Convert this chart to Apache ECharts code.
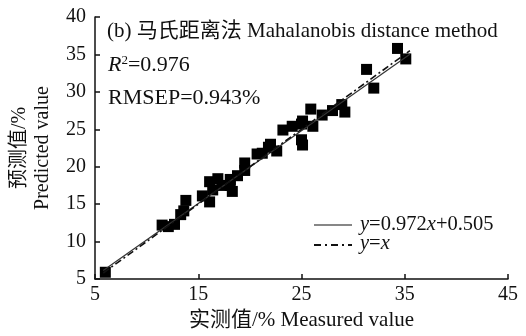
<!DOCTYPE html>
<html>
<head>
<meta charset="utf-8">
<script src="https://cdn.jsdelivr.net/npm/echarts@6/dist/echarts.min.js"></script>
<style>
  html, body { margin: 0; padding: 0; background: #fff; }
  #chart { width: 526px; height: 336px; }
</style>
</head>
<body>
<div id="chart"></div>
<script>
// Measured vs predicted content (%) for the Mahalanobis distance method
var measured = [6.0, 11.5, 12.1, 12.7, 13.3, 13.6, 13.8, 15.4, 16.1, 16.1,
                16.4, 16.9, 17.3, 18.1, 18.1, 18.3, 18.8, 19.5, 19.5, 20.7,
                21.2, 21.8, 22.6, 22.0, 23.2, 24.1, 25.0, 25.1, 25.0, 25.1,
                25.9, 26.1, 27.0, 28.0, 28.9, 29.2, 31.3, 32.0, 34.3, 35.1];
var predicted = [5.9, 12.2, 12.0, 12.3, 13.6, 14.1, 15.5, 16.1, 15.3, 18.0,
                 16.9, 18.4, 17.5, 18.3, 17.5, 16.7, 18.8, 19.5, 20.5, 21.7,
                 21.8, 22.6, 22.1, 23.0, 24.9, 25.4, 25.7, 26.1, 23.6, 22.9,
                 27.7, 25.4, 26.9, 27.5, 28.3, 27.3, 33.0, 30.5, 35.8, 34.4];

// Regression line y = slope*x + intercept and the 1:1 reference line
var slope = 0.972, intercept = 0.505;
var lineRange = [5.8, 35.5];
var xTicks = [5, 15, 25, 35, 45];
var yTicks = [5, 10, 15, 20, 25, 30, 35, 40];

var points = measured.map(function (m, i) { return [m, predicted[i]]; });
var fitLine = lineRange.map(function (x) { return [x, slope * x + intercept]; });
var idLine = lineRange.map(function (x) { return [x, x]; });

var serif = '"Liberation Serif", "Times New Roman", "Noto Sans CJK SC", serif';

var chart = echarts.init(document.getElementById('chart'), null, { renderer: 'canvas' });
chart.setOption({
  animation: false,
  backgroundColor: '#fff',
  grid: { left: 95, right: 18, top: 17, bottom: 55, containLabel: false },
  xAxis: {
    type: 'value', min: xTicks[0], max: xTicks[xTicks.length - 1], interval: 10,
    name: '实测值/% Measured value', nameLocation: 'middle', nameGap: 31,
    nameTextStyle: { fontFamily: serif, fontSize: 21, color: '#111' },
    axisLine: { lineStyle: { color: '#111', width: 1.5 } },
    axisTick: { inside: true, length: 5, lineStyle: { color: '#111', width: 1.5 } },
    axisLabel: { fontFamily: serif, fontSize: 20, color: '#111', margin: 6 },
    splitLine: { show: false }
  },
  yAxis: {
    type: 'value', min: yTicks[0], max: yTicks[yTicks.length - 1], interval: 5,
    name: '预测值/%\nPredicted value', nameLocation: 'middle', nameGap: 41, nameRotate: 90,
    nameTextStyle: { fontFamily: serif, fontSize: 20, color: '#111', lineHeight: 23 },
    axisLine: { lineStyle: { color: '#111', width: 1.5 } },
    axisTick: { inside: true, length: 5, lineStyle: { color: '#111', width: 1.5 } },
    axisLabel: { fontFamily: serif, fontSize: 20, color: '#111', margin: 9 },
    splitLine: { show: false }
  },
  series: [
    {
      type: 'line', data: fitLine, symbol: 'none', z: 3,
      lineStyle: { color: '#333', width: 1.2 }
    },
    {
      type: 'line', data: idLine, symbol: 'none', z: 4,
      lineStyle: { color: '#111', width: 1.6, type: [7, 3, 2, 3] }
    },
    {
      type: 'scatter', data: points, symbol: 'rect', symbolSize: 11, z: 2,
      itemStyle: { color: '#000', opacity: 1 }
    }
  ],
  graphic: [
    {
      type: 'text', left: 107, top: 21,
      style: { text: '(b) 马氏距离法 Mahalanobis distance method', font: '21px ' + serif, fill: '#111' }
    },
    {
      type: 'text', left: 108, top: 54,
      style: {
        text: '{i|R}{s|2}{n|=0.976}',
        rich: {
          i: { font: 'italic 22px ' + serif, fill: '#111' },
          s: { font: '13px ' + serif, fill: '#111', verticalAlign: 'top', padding: [0, 0, 9, 0] },
          n: { font: '22px ' + serif, fill: '#111' }
        }
      }
    },
    {
      type: 'text', left: 108, top: 87,
      style: { text: 'RMSEP=0.943%', font: '22px ' + serif, fill: '#111' }
    },
    // legend
    { type: 'line', shape: { x1: 314, y1: 225, x2: 352, y2: 225 }, style: { stroke: '#111', lineWidth: 1.2 } },
    { type: 'line', shape: { x1: 314, y1: 245, x2: 352, y2: 245 }, style: { stroke: '#111', lineWidth: 1.8, lineDash: [7, 4, 2, 4] } },
    {
      type: 'text', left: 360, top: 214,
      style: {
        text: '{i|y}{n|=0.972}{i|x}{n|+0.505}',
        rich: {
          i: { font: 'italic 20.5px ' + serif, fill: '#111' },
          n: { font: '20.5px ' + serif, fill: '#111' }
        }
      }
    },
    {
      type: 'text', left: 360, top: 233,
      style: {
        text: '{i|y}{n|=}{i|x}',
        rich: {
          i: { font: 'italic 20.5px ' + serif, fill: '#111' },
          n: { font: '20.5px ' + serif, fill: '#111' }
        }
      }
    }
  ]
});
</script>
</body>
</html>
